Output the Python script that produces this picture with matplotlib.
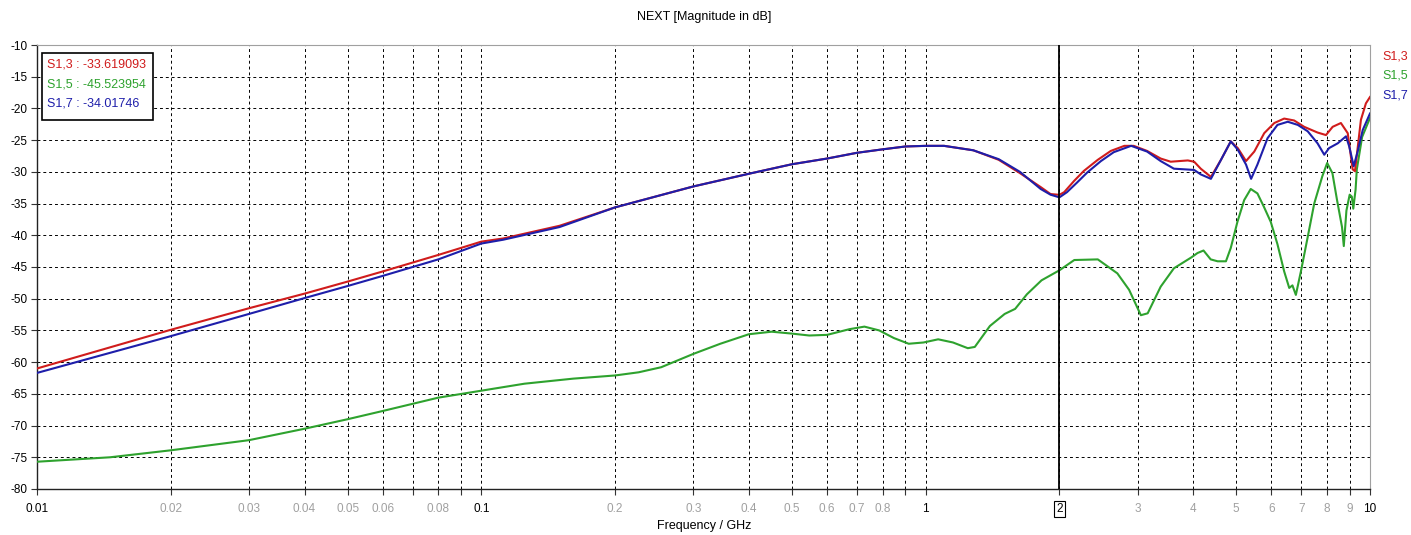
import numpy as np
import matplotlib
matplotlib.use("Agg")
from matplotlib import pyplot as plt
from matplotlib.patches import Rectangle

plt.rcParams['font.family'] = ['Liberation Sans', 'DejaVu Sans']
plt.rcParams['axes.unicode_minus'] = False

# S1,3 (red)
f13 = [0.01, 0.02, 0.03, 0.04, 0.05, 0.06, 0.08, 0.1, 0.112, 0.15, 0.2, 0.3, 0.4, 0.5, 0.6, 0.7, 0.8, 0.9,
       1.0, 1.1, 1.28, 1.46, 1.63, 1.815, 1.91, 2.0, 2.05, 2.16, 2.27, 2.44, 2.61, 2.80, 2.94, 3.15, 3.38,
       3.56, 3.89, 4.02, 4.16, 4.385, 4.62, 4.86, 5.04, 5.26, 5.49, 5.78, 6.09, 6.41, 6.75, 7.11, 7.62,
       7.96, 8.24, 8.60, 8.91, 9.14, 9.25, 9.54, 9.79, 10.0]
s13 = [-61.0, -54.9, -51.5, -49.2, -47.3, -45.7, -43.1, -41.0, -40.5, -38.5, -35.6, -32.3, -30.3, -28.8,
       -27.9, -27.0, -26.45, -26.0, -25.9, -25.9, -26.6, -28.1, -30.2, -32.4, -33.5, -33.62, -33.2, -31.4,
       -29.85, -28.1, -26.7, -25.9, -25.9, -26.7, -27.9, -28.4, -28.2, -28.4, -29.5, -30.8, -28.1, -25.2,
       -26.25, -28.3, -26.8, -23.9, -22.3, -21.6, -21.9, -22.9, -23.8, -24.2, -22.9, -22.3, -23.9, -29.6,
       -29.9, -21.8, -19.2, -18.2]

# S1,5 (green)
f15 = [0.01, 0.0146, 0.02, 0.03, 0.04, 0.05, 0.06, 0.08, 0.1, 0.125, 0.161, 0.2, 0.226, 0.254, 0.3, 0.345,
       0.4, 0.45, 0.5, 0.547, 0.6, 0.674, 0.728, 0.786, 0.848, 0.916, 0.989, 1.067, 1.152, 1.244, 1.29,
       1.395, 1.506, 1.59, 1.69, 1.823, 2.0, 2.16, 2.44, 2.70, 2.87, 3.05, 3.16, 3.38, 3.62, 3.96, 4.09,
       4.22, 4.38, 4.54, 4.74, 4.86, 5.03, 5.21, 5.39, 5.58, 5.77, 5.98, 6.19, 6.41, 6.58, 6.69, 6.81,
       6.99, 7.24, 7.49, 7.81, 8.01, 8.23, 8.43, 8.65, 8.73, 8.85, 9.0, 9.1, 9.17, 9.28, 9.34, 9.6, 10.0]
s15 = [-75.7, -75.0, -73.9, -72.3, -70.5, -69.0, -67.7, -65.6, -64.5, -63.4, -62.6, -62.1, -61.6, -60.8,
       -58.7, -57.1, -55.6, -55.2, -55.5, -55.8, -55.7, -54.8, -54.4, -55.0, -56.2, -57.1, -56.9, -56.4,
       -56.9, -57.8, -57.6, -54.3, -52.4, -51.6, -49.3, -47.1, -45.52, -43.9, -43.8, -46.0, -48.6, -52.6,
       -52.3, -48.1, -45.2, -43.5, -42.8, -42.4, -43.8, -44.1, -44.1, -42.0, -37.9, -34.45, -32.7, -33.4,
       -35.5, -37.9, -41.4, -45.7, -48.3, -47.9, -49.4, -45.7, -40.3, -35.0, -30.7, -28.6, -30.2, -34.45,
       -38.7, -41.7, -36.1, -33.6, -33.9, -35.8, -32.8, -29.6, -24.5, -21.5]

# S1,7 (blue)
f17 = [0.01, 0.02, 0.03, 0.04, 0.05, 0.06, 0.08, 0.1, 0.112, 0.15, 0.2, 0.3, 0.4, 0.5, 0.6, 0.7, 0.8, 0.9,
       1.0, 1.1, 1.28, 1.46, 1.63, 1.815, 1.91, 2.0, 2.08, 2.19, 2.31, 2.48, 2.65, 2.90, 3.15, 3.38, 3.62,
       3.82, 4.02, 4.16, 4.385, 4.62, 4.86, 5.04, 5.26, 5.40, 5.58, 5.88, 6.19, 6.53, 6.88, 7.24, 7.62,
       7.89, 8.09, 8.46, 8.83, 8.98, 9.19, 9.38, 9.63, 10.0]
s17 = [-61.7, -55.9, -52.4, -49.9, -48.0, -46.4, -43.8, -41.3, -40.7, -38.7, -35.6, -32.3, -30.3, -28.8,
       -27.9, -27.0, -26.45, -26.0, -25.9, -25.9, -26.6, -28.0, -30.0, -32.7, -33.6, -34.02, -33.2, -31.7,
       -30.1, -28.3, -26.9, -25.9, -26.8, -28.3, -29.5, -29.6, -29.7, -30.4, -31.1, -28.1, -25.2, -26.5,
       -28.85, -31.1, -28.85, -24.7, -22.6, -22.1, -22.6, -23.6, -25.5, -27.3, -26.25, -25.5, -24.4, -26.0,
       -29.1, -26.8, -23.4, -20.8]

tick_pos = [0.01, 0.02, 0.03, 0.04, 0.05, 0.06, 0.07, 0.08, 0.09, 0.1, 0.2, 0.3, 0.4, 0.5, 0.6, 0.7, 0.8,
            0.9, 1, 2, 3, 4, 5, 6, 7, 8, 9, 10]
tick_lbl = ['0.01', '0.02', '0.03', '0.04', '0.05', '0.06', '', '0.08', '', '0.1', '0.2', '0.3', '0.4',
            '0.5', '0.6', '0.7', '0.8', '', '1', '2', '3', '4', '5', '6', '7', '8', '9', '10']
marker_f = 2.0

c13, c15, c17 = '#d01c1c', '#2ea22e', '#1e1eaa'

fig = plt.figure(figsize=(14.11, 5.35), dpi=100)
ax = fig.add_axes([37 / 1411, 1 - 489 / 535, 1333 / 1411, 444 / 535])

ax.plot(f15, s15, color=c15, lw=1.5, zorder=3)
ax.plot(f13, s13, color=c13, lw=1.5, zorder=4)
ax.plot(f17, s17, color=c17, lw=1.5, zorder=5)

ax.set_xscale('log')
ax.set_xlim(0.01, 10)
ax.set_ylim(-80, -10)
ax.set_yticks(np.arange(-80, -9, 5))
ax.set_xticks(tick_pos)
ax.set_xticklabels(tick_lbl)
ax.minorticks_off()
ax.tick_params(axis='both', labelsize=8.5, length=4, width=0.8, color='#333333', pad=3)
ax.tick_params(axis='x', pad=6)

for lbl, v in zip(ax.get_xticklabels(), tick_pos):
    if v in (0.01, 0.1, 1, 10, 2):
        lbl.set_color('black')
    else:
        lbl.set_color('#a0a0a0')
    if v == 2:
        lbl.set_bbox(dict(boxstyle='square,pad=0.2', fc='white', ec='black', lw=0.8))

ax.grid(True, color='black', lw=0.7, linestyle=(0, (3, 3)))
ax.axvline(marker_f, color='black', lw=1.3, zorder=6)

for s in ('top', 'right'):
    ax.spines[s].set_color('#a0a0a0')
for s in ('left', 'bottom'):
    ax.spines[s].set_color('#222222')
    ax.spines[s].set_linewidth(1.0)

# marker readout box
ax.add_patch(Rectangle((0.0038, 0.831), 0.083, 0.151, transform=ax.transAxes,
                       fc='white', ec='black', lw=1.2, zorder=7))
readout = [('S1,3 : -33.619093', c13), ('S1,5 : -45.523954', c15), ('S1,7 : -34.01746', c17)]
for i, (t, c) in enumerate(readout):
    ax.text(0.0075, 0.955 - i * 0.043, t, color=c, fontsize=9, va='center', ha='left',
            transform=ax.transAxes, zorder=8)

for i, (t, c) in enumerate([('S1,3', c13), ('S1,5', c15), ('S1,7', c17)]):
    fig.text(1382 / 1411, 1 - (57 + i * 19) / 535, t, color=c, fontsize=9, va='center', ha='left')

fig.text(704 / 1411, 1 - 17 / 535, 'NEXT [Magnitude in dB]', fontsize=9, ha='center', va='center')
fig.text(704 / 1411, 1 - 526 / 535, 'Frequency / GHz', fontsize=9, ha='center', va='center')

fig.savefig('out.png', dpi=100)
